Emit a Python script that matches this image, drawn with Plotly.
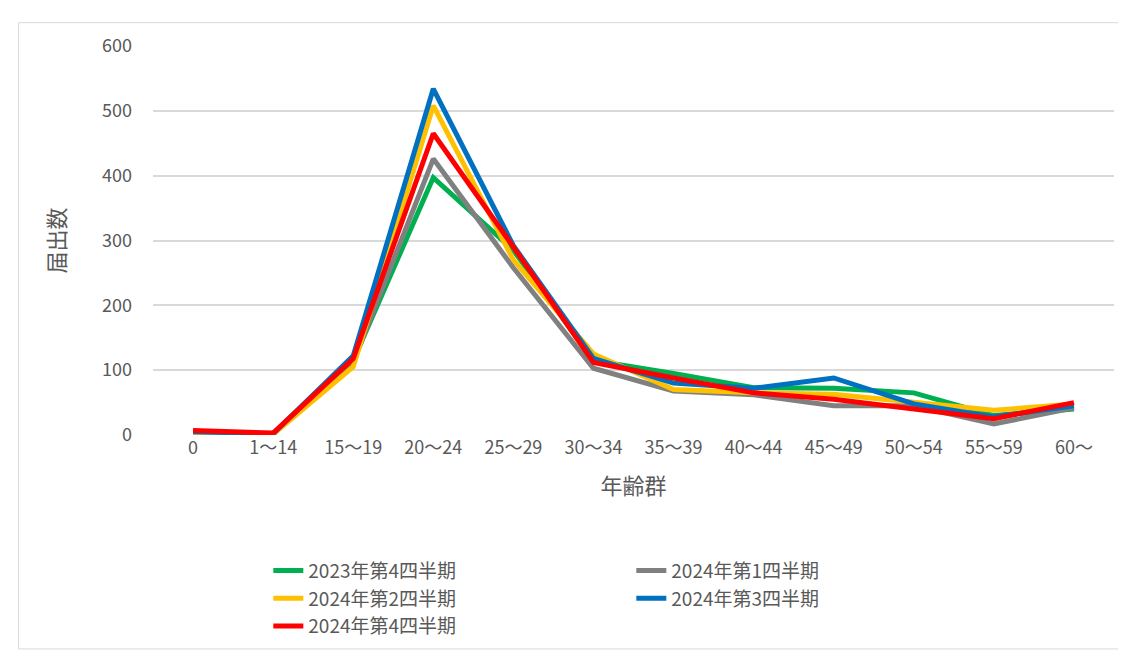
import plotly.graph_objects as go

age_groups = ["0", "1～14", "15～19", "20～24", "25～29", "30～34", "35～39",
              "40～44", "45～49", "50～54", "55～59", "60～"]

q4_2023 = [3, 2, 115, 397, 285, 115, 95, 73, 72, 65, 30, 40]
q1_2024 = [4, 2, 112, 426, 258, 103, 68, 62, 45, 45, 17, 42]
q2_2024 = [2, 1, 105, 508, 270, 125, 70, 65, 63, 50, 38, 48]
q3_2024 = [5, 2, 122, 534, 292, 118, 80, 72, 88, 48, 28, 45]
q4_2024 = [7, 3, 118, 465, 290, 112, 88, 65, 55, 40, 25, 50]

series = [
    ("2023年第4四半期", q4_2023, "#00B050"),
    ("2024年第1四半期", q1_2024, "#808080"),
    ("2024年第2四半期", q2_2024, "#FFC000"),
    ("2024年第3四半期", q3_2024, "#0070C0"),
    ("2024年第4四半期", q4_2024, "#FF0000"),
]

fig = go.Figure()
for name, vals, color in series:
    fig.add_trace(go.Scatter(x=age_groups, y=vals, mode="lines", name=name,
                             line=dict(color=color, width=5)))

fig.update_layout(
    width=1126, height=650,
    paper_bgcolor="white", plot_bgcolor="white",
    font=dict(family="Noto Sans CJK JP", size=18, color="#595959"),
    margin=dict(l=145, r=20, t=38, b=216),
    xaxis=dict(title=dict(text="年齢群", standoff=20), showgrid=False,
               showline=False, ticks="", range=[-0.5, 11.5]),
    yaxis=dict(title=dict(text="届出数", standoff=30), range=[0, 600],
               dtick=100, gridcolor="#D9D9D9", gridwidth=2, zeroline=False,
               ticks="", ticklabelstandoff=20),
    legend=dict(orientation="h", x=0.12, y=-0.3, xanchor="left",
                yanchor="top", entrywidth=318, tracegroupgap=0,
                font=dict(size=19, color="#595959")),
    shapes=[dict(type="rect", xref="paper", yref="paper", x0=-0.14, x1=1.018,
                 y0=-0.55, y1=1.06, line=dict(color="#D9D9D9", width=1))],
)

fig.write_html("out.html")
